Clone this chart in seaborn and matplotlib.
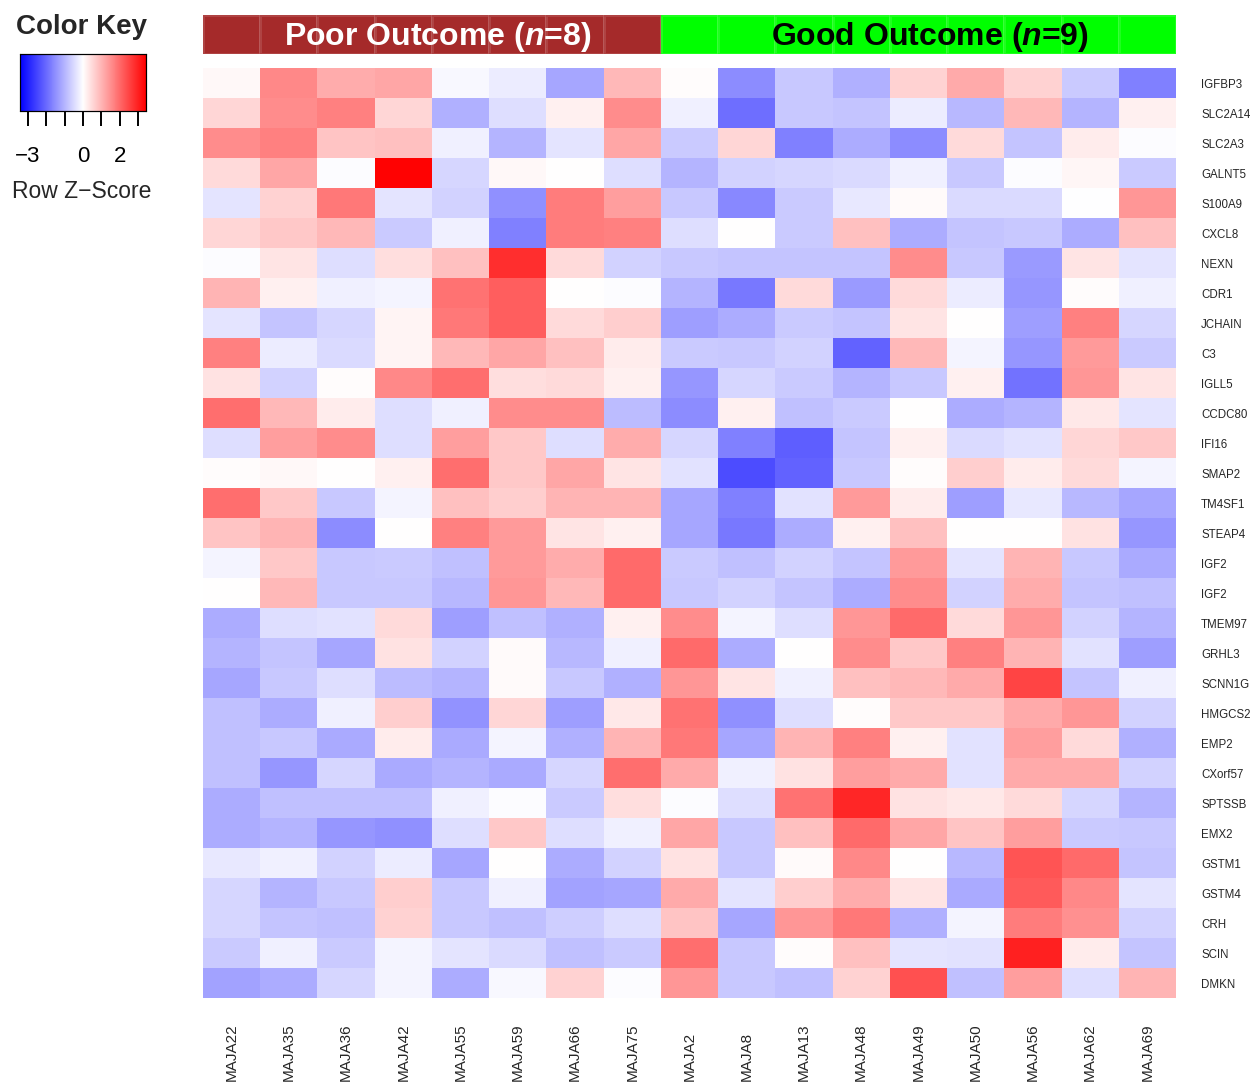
import numpy as np
import pandas as pd
import seaborn as sns
import matplotlib
matplotlib.use("Agg")
import matplotlib.pyplot as plt
from matplotlib.colors import LinearSegmentedColormap, ListedColormap
import matplotlib.transforms as mtransforms

# ---------------- data ----------------
samples = ["MAJA22", "MAJA35", "MAJA36", "MAJA42", "MAJA55", "MAJA59", "MAJA66", "MAJA75",
           "MAJA2", "MAJA8", "MAJA13", "MAJA48", "MAJA49", "MAJA50", "MAJA56", "MAJA62", "MAJA69"]
group_codes = [0] * 8 + [1] * 9          # 0 = poor outcome, 1 = good outcome
group_titles = ["Poor Outcome (", "Good Outcome ("]
group_n = [8, 9]

genes = ["IGFBP3", "SLC2A14", "SLC2A3", "GALNT5", "S100A9", "CXCL8", "NEXN", "CDR1", "JCHAIN",
         "C3", "IGLL5", "CCDC80", "IFI16", "SMAP2", "TM4SF1", "STEAP4", "IGF2", "IGF2", "TMEM97",
         "GRHL3", "SCNN1G", "HMGCS2", "EMP2", "CXorf57", "SPTSSB", "EMX2", "GSTM1", "GSTM4",
         "CRH", "SCIN", "DMKN"]

IGFBP3 = [0.1, 1.6, 1.1, 1.2, -0.1, -0.25, -1.2, 0.95, 0.05, -1.55, -0.75, -1.05, 0.6, 1.15, 0.6, -0.7, -1.7]
SLC2A14 = [0.55, 1.55, 1.7, 0.55, -1.05, -0.45, 0.2, 1.55, -0.2, -1.95, -0.75, -0.8, -0.25, -0.95, 0.95, -1.0, 0.2]
SLC2A3 = [1.55, 1.7, 0.8, 0.85, -0.2, -1.0, -0.35, 1.2, -0.7, 0.55, -1.7, -1.1, -1.55, 0.5, -0.8, 0.25, -0.05]
GALNT5 = [0.5, 1.2, -0.05, 3.4, -0.55, 0.1, 0.0, -0.45, -1.0, -0.6, -0.55, -0.5, -0.2, -0.75, -0.05, 0.12, -0.7]
S100A9 = [-0.35, 0.6, 1.8, -0.35, -0.6, -1.5, 1.75, 1.3, -0.75, -1.6, -0.7, -0.3, 0.07, -0.5, -0.5, -0.02, 1.4]
CXCL8 = [0.55, 0.75, 0.95, -0.7, -0.2, -1.7, 1.75, 1.7, -0.45, 0.0, -0.7, 0.85, -1.1, -0.8, -0.75, -1.1, 0.85]
NEXN = [-0.05, 0.35, -0.45, 0.45, 0.85, 2.8, 0.5, -0.6, -0.75, -0.8, -0.8, -0.8, 1.55, -0.75, -1.35, 0.35, -0.35]
CDR1 = [1.0, 0.2, -0.2, -0.15, 1.9, 2.15, 0.0, -0.05, -1.0, -1.8, 0.5, -1.35, 0.5, -0.25, -1.4, 0.05, -0.2]
JCHAIN = [-0.35, -0.8, -0.55, 0.15, 1.8, 2.15, 0.5, 0.65, -1.3, -1.1, -0.7, -0.8, 0.35, 0.0, -1.3, 1.7, -0.55]
C3 = [1.7, -0.25, -0.5, 0.15, 0.95, 1.2, 0.85, 0.25, -0.7, -0.75, -0.6, -2.1, 0.95, -0.15, -1.4, 1.35, -0.7]
IGLL5 = [0.4, -0.6, 0.05, 1.6, 1.95, 0.45, 0.5, 0.2, -1.4, -0.55, -0.7, -1.0, -0.75, 0.2, -1.9, 1.4, 0.35]
CCDC80 = [1.95, 0.95, 0.25, -0.45, -0.2, 1.55, 1.55, -0.9, -1.55, 0.2, -0.85, -0.7, 0.0, -1.1, -1.0, 0.3, -0.35]
IFI16 = [-0.45, 1.3, 1.55, -0.45, 1.3, 0.75, -0.45, 1.1, -0.55, -1.7, -2.15, -0.8, 0.2, -0.5, -0.4, 0.55, 0.75]
SMAP2 = [0.03, 0.1, 0.0, 0.2, 1.95, 0.75, 1.2, 0.35, -0.4, -2.4, -2.1, -0.75, 0.03, 0.65, 0.25, 0.5, -0.15]
TM4SF1 = [1.95, 0.75, -0.75, -0.15, 0.85, 0.65, 1.0, 1.0, -1.2, -1.7, -0.4, 1.35, 0.25, -1.3, -0.3, -0.95, -1.2]
STEAP4 = [0.8, 1.0, -1.55, 0.0, 1.7, 1.35, 0.35, 0.2, -1.2, -1.8, -1.1, 0.2, 0.85, 0.0, 0.0, 0.4, -1.4]
IGF2_a = [-0.15, 0.75, -0.75, -0.7, -0.85, 1.35, 1.1, 2.0, -0.7, -0.85, -0.6, -0.8, 1.35, -0.35, 1.0, -0.75, -1.15]
IGF2_b = [0.0, 0.95, -0.75, -0.75, -0.95, 1.4, 0.95, 2.0, -0.75, -0.6, -0.8, -1.1, 1.55, -0.6, 1.1, -0.8, -0.85]
TMEM97 = [-1.1, -0.45, -0.4, 0.5, -1.3, -0.85, -1.05, 0.2, 1.55, -0.15, -0.45, 1.4, 2.0, 0.5, 1.4, -0.6, -1.0]
GRHL3 = [-1.0, -0.8, -1.2, 0.4, -0.6, 0.07, -0.95, -0.2, 2.0, -1.1, 0.0, 1.55, 0.75, 1.7, 1.0, -0.4, -1.3]
SCNN1G = [-1.2, -0.75, -0.45, -0.9, -1.0, 0.07, -0.75, -1.05, 1.4, 0.35, -0.2, 0.85, 0.95, 1.15, 2.5, -0.8, -0.2]
HMGCS2 = [-0.85, -1.1, -0.2, 0.65, -1.45, 0.55, -1.3, 0.3, 1.9, -1.5, -0.45, 0.05, 0.75, 0.75, 1.15, 1.4, -0.6]
EMP2 = [-0.85, -0.75, -1.15, 0.25, -1.15, -0.15, -1.05, 1.0, 1.8, -1.2, 1.0, 1.7, 0.2, -0.4, 1.3, 0.5, -1.05]
CXorf57 = [-0.85, -1.4, -0.55, -1.15, -1.0, -1.15, -0.55, 1.95, 1.15, -0.2, 0.4, 1.3, 1.15, -0.4, 1.15, 1.15, -0.6]
SPTSSB = [-1.1, -0.85, -0.85, -0.85, -0.2, -0.05, -0.7, 0.45, -0.05, -0.45, 1.9, 2.9, 0.4, 0.3, 0.5, -0.55, -1.0]
EMX2 = [-1.1, -1.0, -1.4, -1.5, -0.45, 0.75, -0.45, -0.2, 1.2, -0.75, 0.85, 2.0, 1.2, 0.8, 1.3, -0.7, -0.75]
GSTM1 = [-0.3, -0.2, -0.6, -0.25, -1.2, 0.0, -1.1, -0.6, 0.4, -0.75, 0.07, 1.6, 0.0, -0.95, 2.3, 2.0, -0.8]
GSTM4 = [-0.55, -1.0, -0.75, 0.65, -0.75, -0.2, -1.25, -1.2, 1.15, -0.35, 0.65, 1.1, 0.35, -1.15, 2.2, 1.6, -0.35]
CRH = [-0.55, -0.8, -0.85, 0.6, -0.75, -0.85, -0.65, -0.45, 0.8, -1.2, 1.4, 1.8, -1.05, -0.15, 1.75, 1.5, -0.6]
SCIN = [-0.7, -0.2, -0.7, -0.15, -0.35, -0.5, -0.85, -0.7, 1.95, -0.75, 0.05, 0.85, -0.35, -0.4, 3.0, 0.25, -0.8]
DMKN = [-1.25, -1.1, -0.55, -0.15, -1.1, -0.1, 0.6, -0.05, 1.4, -0.75, -0.85, 0.6, 2.35, -0.85, 1.3, -0.45, 1.0]

key_ticks = [-3, -2, -1, 0, 1, 2, 3]
key_ticklabels = ["\u22123", "", "", "0", "", "2", ""]

rows = [IGFBP3, SLC2A14, SLC2A3, GALNT5, S100A9, CXCL8, NEXN, CDR1, JCHAIN, C3, IGLL5, CCDC80,
        IFI16, SMAP2, TM4SF1, STEAP4, IGF2_a, IGF2_b, TMEM97, GRHL3, SCNN1G, HMGCS2, EMP2,
        CXorf57, SPTSSB, EMX2, GSTM1, GSTM4, CRH, SCIN, DMKN]
zdf = pd.DataFrame(np.array(rows), columns=samples)
zdf.index = [f"{g}_{i}" for i, g in enumerate(genes)]

# ---------------- style ----------------
sns.set_theme(style="white")
plt.rcParams["font.family"] = ["Liberation Sans", "DejaVu Sans"]
plt.rcParams["mathtext.fontset"] = "custom"
plt.rcParams["mathtext.it"] = "Liberation Sans:italic:bold"
plt.rcParams["mathtext.rm"] = "Liberation Sans:bold"

W, H = 1257, 1086
fig = plt.figure(figsize=(W / 100, H / 100), dpi=100)

def axes_px(x0, y0, x1, y1):
    return fig.add_axes([x0 / W, 1 - y1 / H, (x1 - x0) / W, (y1 - y0) / H])

ax = axes_px(203, 68, 1176, 998)
ax_head = axes_px(203, 15, 1176, 54)
cax = axes_px(20, 54, 146, 111)

bluered = LinearSegmentedColormap.from_list("bluered", ["#0000FF", "#FFFFFF", "#FF0000"], N=256)
lim = 3.43

sns.heatmap(zdf, ax=ax, cmap=bluered, vmin=-lim, vmax=lim, cbar=True, cbar_ax=cax,
            cbar_kws={"orientation": "horizontal"}, xticklabels=False, yticklabels=genes)

# row labels on the right
ax.yaxis.tick_right()
ax.tick_params(axis="y", length=0, pad=18, labelsize=8.3, labelrotation=0)
for lab in ax.get_yticklabels():
    lab.set_horizontalalignment("left")
ax.set_xlabel("")
ax.set_ylabel("")

# column labels, rotated, anchored at the bottom of the figure
trans = mtransforms.blended_transform_factory(ax.transData, fig.transFigure)
for i, s in enumerate(samples):
    ax.text(i + 0.5, 5 / H, s, rotation=90, ha="center", va="bottom", fontsize=11,
            transform=trans, clip_on=False)

# header band
head = pd.DataFrame([group_codes], columns=samples)
sns.heatmap(head, ax=ax_head, cmap=ListedColormap(["#A52A2A", "#00FF00"]), vmin=0, vmax=1,
            cbar=False, xticklabels=False, yticklabels=False,
            linewidths=0.8, linecolor=(1, 1, 1, 0.12))
ax_head.text(4.1, 0.56, group_titles[0] + r"$\mathit{n}$=" + f"{group_n[0]})", ha="center", va="center",
             color="white", fontsize=23, fontweight="bold")
ax_head.text(8 + 4.7, 0.56, group_titles[1] + r"$\mathit{n}$=" + f"{group_n[1]})", ha="center", va="center",
             color="black", fontsize=23, fontweight="bold")

# color key
cax.set_xlim(-lim, lim)
cax.set_xticks(key_ticks)
cax.set_xticklabels(key_ticklabels)
cax.tick_params(axis="x", length=11, width=1.4, pad=14, labelsize=16, colors="black", direction="out",
                bottom=True)
for sp in cax.spines.values():
    sp.set_visible(True)
    sp.set_color("black")
    sp.set_linewidth(0.8)
fig.text(82 / W, 1 - 27 / H, "Color Key", ha="center", va="center", fontsize=20, fontweight="bold")
fig.text(82 / W, 1 - 192 / H, "Row Z\u2212Score", ha="center", va="center", fontsize=16.5)

fig.savefig("out.png", dpi=100, facecolor="white")
